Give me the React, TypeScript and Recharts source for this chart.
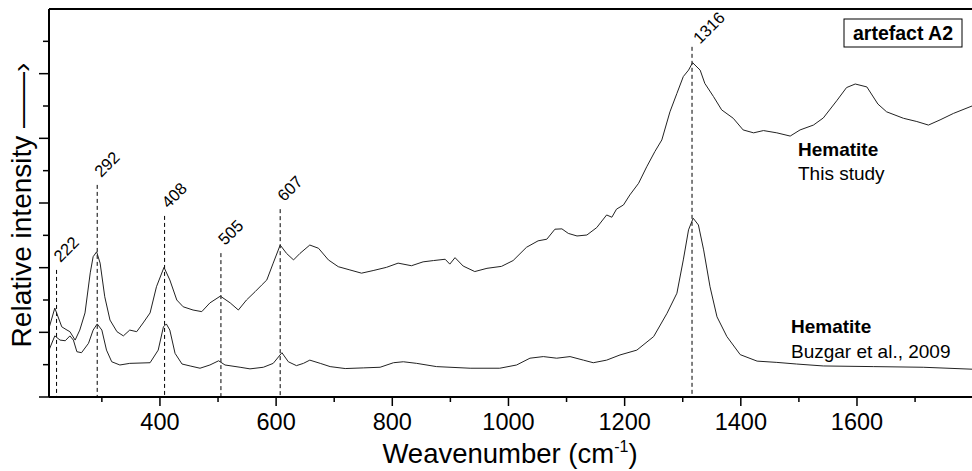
import React from 'react';
import { LineChart, Line, XAxis, YAxis, ReferenceLine, ReferenceDot, Customized } from 'recharts';

const FONT = '"Liberation Sans", Arial, Helvetica, sans-serif';

// "This study" spectrum (offset upward)
const studyWn = [209,219,231,240,245,254,262,271,280,285,291,297,305,314,326,337,348,360,371,383,394,407,417,429,440,457,472,486,504,521,535,549,564,575,584,595,607,618,630,641,658,673,690,707,727,747,767,790,810,833,853,871,891,899,908,922,942,963,988,1008,1031,1051,1066,1080,1092,1103,1118,1135,1152,1169,1178,1186,1198,1209,1224,1238,1252,1264,1278,1290,1301,1310,1317,1330,1338,1353,1367,1387,1404,1422,1439,1462,1485,1502,1525,1542,1565,1582,1597,1617,1636,1651,1680,1703,1723,1743,1766,1798];
const studyVal = [2.13,2.75,2.17,2.07,2.02,1.76,2.07,2.60,3.84,4.34,4.49,4.14,3.10,2.38,2.02,1.89,2.07,2.02,2.29,2.60,3.41,4.01,3.62,3.00,2.79,2.69,2.64,2.91,3.12,2.91,2.69,3.00,3.26,3.46,3.62,4.14,4.70,4.44,4.24,4.44,4.70,4.60,4.24,4.03,3.93,3.83,3.91,4.01,4.14,4.06,4.18,4.22,4.26,4.11,4.31,4.05,3.88,3.98,4.04,4.22,4.63,4.83,4.88,5.19,5.20,5.06,4.98,5.01,5.24,5.63,5.56,5.81,5.94,6.25,6.61,7.12,7.59,7.95,8.82,9.39,9.91,10.11,10.34,10.11,9.70,9.29,8.88,8.62,8.26,8.17,8.24,8.17,8.07,8.26,8.41,8.63,9.16,9.57,9.68,9.59,9.06,8.82,8.62,8.52,8.41,8.57,8.77,9.00];

// Reference spectrum (Buzgar et al., 2009)
const refWn = [209,219,228,237,245,251,257,265,277,285,292,300,308,317,331,348,383,397,406,411,417,426,438,452,469,486,501,512,538,555,578,595,610,621,635,647,658,676,693,719,750,779,802,819,842,876,934,985,1014,1037,1060,1083,1106,1129,1146,1169,1192,1221,1250,1273,1290,1301,1310,1318,1327,1336,1347,1359,1376,1399,1428,1462,1496,1542,1628,1714,1798];
const refVal = [1.45,1.89,1.76,1.74,1.89,1.76,1.40,1.37,1.66,2.07,2.26,2.07,1.45,1.09,0.99,1.04,1.06,1.45,2.17,2.26,2.07,1.35,1.02,0.96,0.89,0.99,1.12,0.99,0.92,0.87,0.92,1.04,1.37,1.09,0.97,1.04,1.14,1.04,0.94,0.88,0.90,0.92,1.06,1.09,1.04,0.94,0.89,0.89,0.99,1.20,1.25,1.20,1.25,1.14,1.06,1.14,1.30,1.45,1.87,2.59,3.21,4.24,5.17,5.53,5.32,4.55,3.41,2.48,1.87,1.31,1.11,1.07,1.02,0.96,0.94,0.92,0.86];

// Marked peaks
const peakPositions = [222, 292, 408, 505, 607, 1316];
const peakLineTops = [3.93, 6.56, 5.6, 4.45, 5.81, 10.83];
const peakLabels = ['222', '292', '408', '505', '607', '1316'];

// Axis ticks
const xTicks = [300, 400, 500, 600, 700, 800, 900, 1000, 1100, 1200, 1300, 1400, 1500, 1600, 1700];
const yTicks = [0, 1, 2, 3, 4, 5, 6, 7, 8, 9, 10, 11];

const studyData = studyWn.map((wn, i) => ({ wn, v: studyVal[i] }));
const refData = refWn.map((wn, i) => ({ wn, v: refVal[i] }));

const XTick = (props: any) => {
  const { x, y, payload } = props;
  const major = payload.value % 200 === 0;
  return (
    <g>
      <line x1={x} x2={x} y1={y} y2={y + (major ? 9 : 5)} stroke="#000" strokeWidth={1.5} />
      {major && (
        <text x={x} y={y + 33} textAnchor="middle" fontSize={23.5} fontFamily={FONT} fill="#000">
          {payload.value}
        </text>
      )}
    </g>
  );
};

const YTick = (props: any) => {
  const { x, y, payload } = props;
  const major = payload.value % 2 === 0;
  return <line x1={x - (major ? 10 : 6)} x2={x} y1={y} y2={y} stroke="#000" strokeWidth={1.5} />;
};

const PeakLabel = (text: string) => (p: any) => {
  const nearTop = p.cy < 60;
  const tx = p.cx + (nearTop ? 8 : 4);
  const ty = nearTop ? p.cy - 2 : p.cy - 7;
  return (
    <text x={tx} y={ty} transform={`rotate(-45 ${tx} ${ty})`} fontSize={16.5} fontFamily={FONT} fill="#000">
      {text}
    </text>
  );
};

const Titles = () => (
  <g fontFamily={FONT} fill="#000">
    <text x={510} y={463} textAnchor="middle" fontSize={27.5}>
      Weavenumber (cm<tspan fontSize={16} dy={-11}>-1</tspan><tspan dy={11}>)</tspan>
    </text>
    <text x={31} y={205} textAnchor="middle" fontSize={28} transform="rotate(-90 31 205)">
      Relative intensity ——›
    </text>
    <rect x={844} y={19} width={118} height={28} fill="#fff" stroke="#000" strokeWidth={1} />
    <text x={903} y={40} textAnchor="middle" fontSize={19.5} fontWeight="bold">artefact A2</text>
    <text x={798} y={156} fontSize={19} fontWeight="bold">Hematite</text>
    <text x={798} y={180} fontSize={19}>This study</text>
    <text x={791} y={333} fontSize={19} fontWeight="bold">Hematite</text>
    <text x={791} y={358} fontSize={19}>Buzgar et al., 2009</text>
  </g>
);

export default function App() {
  return (
    <div style={{ position: 'absolute', left: 0, top: 0, background: '#fff' }}>
      <LineChart width={972} height={471} margin={{ top: 9, right: 0, bottom: 0, left: 0 }}>
        <XAxis
          dataKey="wn"
          type="number"
          domain={[209, 1798]}
          ticks={xTicks}
          allowDataOverflow
          height={74}
          tickSize={0}
          tickMargin={0}
          tickLine={false}
          tick={<XTick />}
          axisLine={{ stroke: '#000', strokeWidth: 2 }}
          interval={0}
        />
        <YAxis
          type="number"
          domain={[0, 12]}
          ticks={yTicks}
          width={49}
          tickSize={0}
          tickMargin={0}
          tickLine={false}
          tick={<YTick />}
          axisLine={{ stroke: '#000', strokeWidth: 2 }}
          interval={0}
        />
        <ReferenceLine y={12} stroke="#000" strokeWidth={2} ifOverflow="visible" />
        {peakPositions.map((p, i) => (
          <ReferenceLine
            key={'pl' + p}
            segment={[{ x: p, y: peakLineTops[i] }, { x: p, y: 0 }]}
            stroke="#000"
            strokeWidth={1}
            strokeDasharray="4 3"
            ifOverflow="visible"
          />
        ))}
        <Line data={studyData} dataKey="v" type="linear" stroke="#222" strokeWidth={1} dot={false} isAnimationActive={false} />
        <Line data={refData} dataKey="v" type="linear" stroke="#222" strokeWidth={1} dot={false} isAnimationActive={false} />
        {peakPositions.map((p, i) => (
          <ReferenceDot
            key={'pd' + p}
            x={p}
            y={peakLineTops[i]}
            r={0}
            ifOverflow="visible"
            shape={PeakLabel(peakLabels[i])}
          />
        ))}
        <Customized component={<Titles />} />
      </LineChart>
    </div>
  );
}
